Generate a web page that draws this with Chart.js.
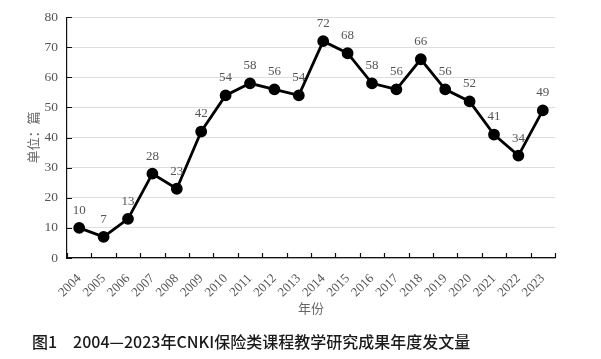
<!DOCTYPE html>
<html><head><meta charset="utf-8">
<script src="https://cdn.jsdelivr.net/npm/chart.js@4/dist/chart.umd.min.js"></script>
<style>
html,body{margin:0;padding:0;background:#fff;}
#wrap{position:relative;width:601px;height:359px;}
#caption{position:absolute;left:32px;top:329px;font-family:"Noto Sans CJK SC",sans-serif;font-size:16px;font-weight:500;color:#1a1a1a;white-space:nowrap;}
</style></head>
<body>
<div id="wrap"><canvas id="c" width="601" height="359"></canvas>
<div id="caption">图1　2004—2023年CNKI保险类课程教学研究成果年度发文量</div></div>
<script>
const years = ["2004","2005","2006","2007","2008","2009","2010","2011","2012","2013","2014","2015","2016","2017","2018","2019","2020","2021","2022","2023"];
const counts = [10,7,13,28,23,42,54,58,56,54,72,68,58,56,66,56,52,41,34,49];
const yTicks = [0,10,20,30,40,50,60,70,80];

const labelPlugin = {
  id:'labels',
  afterDatasetsDraw(chart){
    const ctx = chart.ctx;
    const meta = chart.getDatasetMeta(0);
    ctx.save();
    ctx.font = '13px "Liberation Serif", serif';
    ctx.fillStyle = '#555';
    ctx.textAlign = 'center';
    ctx.textBaseline = 'bottom';
    meta.data.forEach((p,i)=>{
      ctx.fillText(String(counts[i]), p.x, p.y - 11);
    });
    ctx.restore();
  },
  afterDraw(chart){
    const ctx = chart.ctx;
    const xs = chart.scales.x, ys = chart.scales.y;
    const a = chart.chartArea;
    ctx.save();
    ctx.strokeStyle = '#111';
    ctx.lineWidth = 1.2;
    ctx.beginPath();
    for (let i=0;i<=years.length;i++){
      const x = Math.round(xs.getPixelForValue(i-0.5))+0.5;
      ctx.moveTo(x, a.bottom);
      ctx.lineTo(x, a.bottom-5);
    }
    yTicks.forEach(v=>{
      const y = Math.round(ys.getPixelForValue(v))+0.5;
      ctx.moveTo(a.left, y);
      ctx.lineTo(a.left+5, y);
    });
    ctx.stroke();
    ctx.restore();
  }
};

new Chart(document.getElementById('c'), {
  type:'line',
  data:{labels:years, datasets:[{data:counts, borderColor:'#000', backgroundColor:'#000', borderWidth:2.8, pointRadius:4.5, pointHoverRadius:4.5, tension:0}]},
  options:{
    responsive:false, animation:false,
    layout:{padding:{top:12,right:46,bottom:43,left:0}},
    plugins:{legend:{display:false}, tooltip:{enabled:false}},
    scales:{
      x:{
        offset:true,
        grid:{display:false, offset:true},
        border:{display:true,color:'#111',width:1.2},
        ticks:{font:{family:'"Liberation Serif", serif',size:13},color:'#555',maxRotation:45,minRotation:45,padding:5,autoSkip:false},
        title:{display:true,text:'年份',font:{family:'"Noto Sans CJK SC", sans-serif',size:13},color:'#666',padding:{top:0,bottom:0}},
        afterFit(s){ s.height = 58; }
      },
      y:{
        min:0,max:80,
        afterBuildTicks(s){ s.ticks = yTicks.map(v=>({value:v})); },
        grid:{color:'#dedede',lineWidth:1,drawTicks:false},
        border:{display:true,color:'#111',width:1.2},
        ticks:{font:{family:'"Liberation Serif", serif',size:13.5},color:'#555',padding:9},
        title:{display:true,text:'单位：篇',font:{family:'"Noto Sans CJK SC", sans-serif',size:13},color:'#666',padding:{top:25,bottom:8}},
        afterFit(s){ s.width = 67; }
      }
    }
  },
  plugins:[labelPlugin]
});
</script>
</body></html>
